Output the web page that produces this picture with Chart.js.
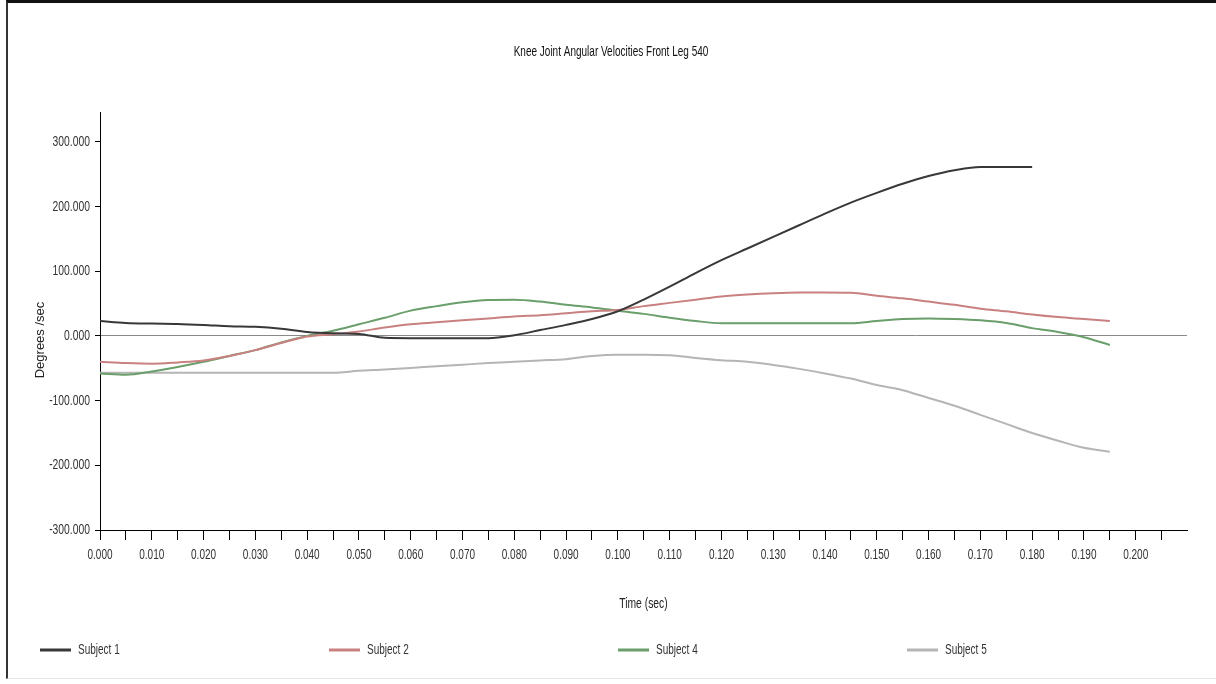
<!DOCTYPE html>
<html><head><meta charset="utf-8">
<script src="https://cdn.jsdelivr.net/npm/chart.js@4.4.0/dist/chart.umd.min.js"></script>
<style>
html,body{margin:0;padding:0;background:#fff;overflow:hidden}
#wrap{position:relative;width:1216px;height:684px}
#frame{position:absolute;left:6px;top:0;width:1210px;height:679px;border-top:3px solid #111;border-left:2px solid #333;border-bottom:1px solid #e4e4e4;box-sizing:border-box;pointer-events:none}
canvas{position:absolute;left:0;top:0}
</style></head><body>
<div id="wrap"><canvas id="c" width="1216" height="684"></canvas><div id="frame"></div></div>
<script>
const chartTitle = 'Knee Joint Angular Velocities Front Leg 540';
const xTitle = 'Time (sec)';
const yTitle = 'Degrees /sec';
const seriesNames = ['Subject 1', 'Subject 2', 'Subject 4', 'Subject 5'];
const seriesColors = ['#383838', '#c98080', '#6a9e6a', '#b5b5b5'];

const times = [0.000, 0.005, 0.010, 0.015, 0.020, 0.025, 0.030, 0.035, 0.040, 0.045,
               0.050, 0.055, 0.060, 0.065, 0.070, 0.075, 0.080, 0.085, 0.090, 0.095,
               0.100, 0.105, 0.110, 0.115, 0.120, 0.125, 0.130, 0.135, 0.140, 0.145,
               0.150, 0.155, 0.160, 0.165, 0.170, 0.175, 0.180, 0.185, 0.190, 0.195];

const subject1 = [23, 20, 19, 18.5, 17, 15, 14, 11, 6, 4,
                  3, -3, -3.5, -3.5, -3.5, -3.5, 1, 9, 17, 26,
                  38, 56, 76, 97, 117, 135, 153, 171, 189, 206,
                  221, 235, 247, 256, 261, 261, 261];
const subject2 = [-40, -42, -43, -41, -38, -31, -22, -11, -1, 2.5,
                  6.7, 13, 18, 21, 24, 27, 30, 32, 35, 38,
                  40, 46, 51, 56, 61, 64, 66, 67, 67, 66.5,
                  62, 58, 53, 48, 42, 38, 33, 29, 26, 23];
const subject4 = [-58, -60, -55, -48, -40, -31, -22, -10, 0, 8,
                  18, 28, 39, 46, 52, 55.5, 56, 53, 48, 44,
                  39, 34, 28, 23, 19.6, 19.5, 19.5, 19.5, 19.5, 19.5,
                  23, 26, 27, 26, 24, 20, 12, 6, -2, -14];
const subject5 = [-57, -57, -57, -57, -57, -57, -57, -57, -57, -57,
                  -54, -52, -49.5, -47, -44.5, -42, -40, -38, -36, -31,
                  -29, -29, -30, -34, -37.5, -40, -45, -51, -58, -66,
                  -76, -84, -96, -108, -122, -136, -150, -162, -173, -179];

const yTicks = [-300, -200, -100, 0, 100, 200, 300];

const seriesValues = [subject1, subject2, subject4, subject5];

// "NarrowArial" is not an installed font: it is only a marker telling the
// text hooks below to draw Liberation Sans horizontally condensed (Arial Narrow look).
const NARROW = '"NarrowArial", "Liberation Sans", Arial, sans-serif';
const NARROW_SCALE = 0.69;

const canvas = document.getElementById('c');
const ctx0 = canvas.getContext('2d');
(function installNarrow(ctx) {
  const origFill = ctx.fillText;
  const origMeasure = ctx.measureText;
  ctx.fillText = function (text, x, y, maxWidth) {
    if (this.font.indexOf('NarrowArial') === -1) {
      return maxWidth === undefined ? origFill.call(this, text, x, y) : origFill.call(this, text, x, y, maxWidth);
    }
    this.save();
    this.translate(x, y);
    this.scale(NARROW_SCALE, 1);
    if (maxWidth === undefined) origFill.call(this, text, 0, 0);
    else origFill.call(this, text, 0, 0, maxWidth / NARROW_SCALE);
    this.restore();
  };
  ctx.measureText = function (text) {
    const m = origMeasure.call(this, text);
    if (this.font.indexOf('NarrowArial') === -1) return m;
    return {
      width: m.width * NARROW_SCALE,
      actualBoundingBoxAscent: m.actualBoundingBoxAscent,
      actualBoundingBoxDescent: m.actualBoundingBoxDescent,
      actualBoundingBoxLeft: m.actualBoundingBoxLeft * NARROW_SCALE,
      actualBoundingBoxRight: m.actualBoundingBoxRight * NARROW_SCALE,
      fontBoundingBoxAscent: m.fontBoundingBoxAscent,
      fontBoundingBoxDescent: m.fontBoundingBoxDescent
    };
  };
})(ctx0);

const datasets = seriesValues.map((vals, i) => ({
  label: seriesNames[i],
  data: vals.map((v, k) => ({x: times[k], y: v})),
  borderColor: seriesColors[i],
  backgroundColor: seriesColors[i],
  borderWidth: 2,
  pointRadius: 0,
  fill: false,
  cubicInterpolationMode: 'monotone'
}));

const extras = {
  id: 'extras',
  afterDraw(chart) {
    const ctx = chart.ctx;
    const area = chart.chartArea;

    // chart title
    ctx.save();
    ctx.font = '14.5px ' + NARROW;
    ctx.fillStyle = '#111';
    ctx.textAlign = 'center';
    ctx.textBaseline = 'middle';
    ctx.fillText(chartTitle, 611, 52);
    ctx.restore();

    // y-axis title
    ctx.save();
    ctx.font = '13px "Liberation Sans", Arial, sans-serif';
    ctx.fillStyle = '#222';
    ctx.textAlign = 'center';
    ctx.textBaseline = 'middle';
    ctx.translate(40, (area.top + area.bottom) / 2 + 19);
    ctx.rotate(-Math.PI / 2);
    ctx.fillText(yTitle, 0, 0);
    ctx.restore();

    // legend row
    ctx.save();
    const y = 650;
    ctx.font = '14.5px ' + NARROW;
    ctx.textBaseline = 'middle';
    ctx.textAlign = 'left';
    chart.data.datasets.forEach((ds, i) => {
      const x = 40 + i * 289;
      ctx.strokeStyle = ds.borderColor;
      ctx.lineWidth = 3;
      ctx.beginPath(); ctx.moveTo(x, y); ctx.lineTo(x + 31, y); ctx.stroke();
      ctx.fillStyle = '#333';
      ctx.fillText(ds.label, x + 38, y);
    });
    ctx.restore();
  }
};

new Chart(canvas, {
  type: 'line',
  data: { datasets },
  plugins: [extras],
  options: {
    responsive: false,
    animation: false,
    layout: { padding: { left: 0, right: 29, top: 112, bottom: 0 } },
    plugins: {
      legend: { display: false },
      tooltip: { enabled: false },
      title: { display: false }
    },
    scales: {
      x: {
        type: 'linear',
        min: 0,
        max: 0.2099,
        afterFit(scale) { scale.height = 154; },
        border: { display: true, color: '#000', width: 1 },
        grid: { drawOnChartArea: false, drawTicks: true, tickLength: 10, tickColor: '#000', tickWidth: 1 },
        ticks: {
          stepSize: 0.005,
          includeBounds: false,
          autoSkip: false,
          maxRotation: 0,
          minRotation: 0,
          padding: 6,
          color: '#333',
          font: { family: NARROW, size: 14.5 },
          callback: (v) => { const m = Math.round(v * 1000); return m % 10 === 0 ? (m / 1000).toFixed(3) : ''; }
        },
        title: {
          display: true,
          text: xTitle,
          color: '#222',
          font: { family: NARROW, size: 15 },
          padding: { top: 4, bottom: 71 }
        }
      },
      y: {
        min: -300,
        max: 346,
        afterFit(scale) { scale.width = 100; },
        afterBuildTicks(scale) { scale.ticks = yTicks.map(v => ({ value: v })); },
        border: { display: true, color: '#000', width: 1 },
        grid: {
          drawOnChartArea: true,
          drawTicks: true,
          tickLength: 5,
          tickColor: '#000',
          lineWidth: 1,
          color: (c) => (c.tick && c.tick.value === 0) ? '#8a8a8a' : 'rgba(0,0,0,0)'
        },
        ticks: {
          padding: 5,
          color: '#333',
          font: { family: NARROW, size: 15 },
          callback: (v) => Number(v).toFixed(3)
        },
        title: { display: false }
      }
    }
  }
});
</script>
</body></html>
